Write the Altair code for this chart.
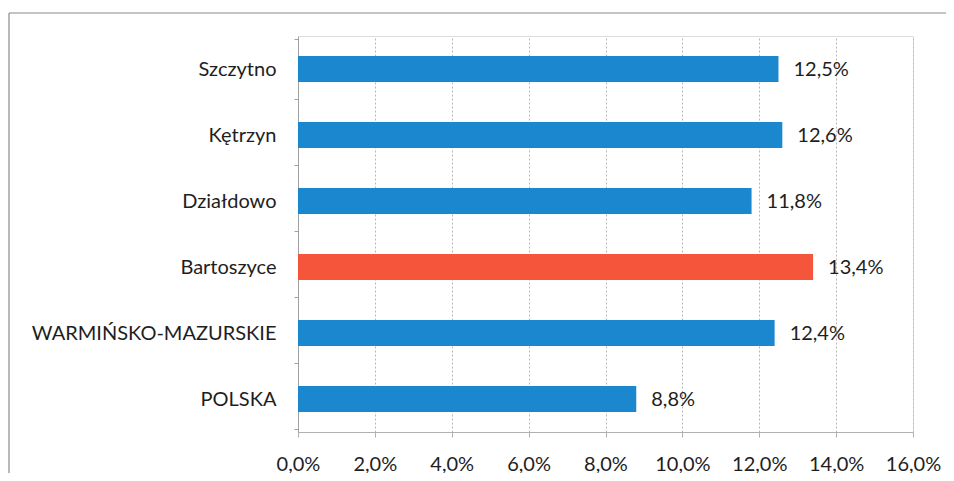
import altair as alt
import pandas as pd

categories = ["Szczytno", "Kętrzyn", "Działdowo", "Bartoszyce", "WARMIŃSKO-MAZURSKIE", "POLSKA"]
values = [12.5, 12.6, 11.8, 13.4, 12.4, 8.8]
highlight = ["n", "n", "n", "y", "n", "n"]
x_ticks = [0, 2, 4, 6, 8, 10, 12, 14, 16]

df = pd.DataFrame({"cat": categories, "v": values, "hl": highlight})

FONT = "Lato"
TXT = "#1e1e1e"

x_enc = alt.X(
    "v:Q",
    scale=alt.Scale(domain=[0, 16], nice=False),
    axis=alt.Axis(
        values=x_ticks,
        title=None,
        labelExpr="replace(format(datum.value, '.1f'), '.', ',') + '%'",
        labelFlush=False,
        grid=True,
        gridDash=[2, 2],
        gridColor="#b8b8b8",
        domainColor="#b0b0b0",
        tickColor="#b0b0b0",
        tickSize=5,
        labelPadding=17,
        labelFontSize=20,
        labelFont=FONT,
        labelColor=TXT,
    ),
)
y_enc = alt.Y(
    "cat:N",
    sort=categories,
    axis=alt.Axis(
        title=None,
        domainColor="#a0a0a0",
        tickColor="#a0a0a0",
        tickSize=4,
        tickBand="extent",
        labelPadding=18,
        labelFontSize=20,
        labelFont=FONT,
        labelColor=TXT,
        labelLimit=400,
    ),
)

bars = alt.Chart(df).mark_bar(size=26).encode(
    x=x_enc,
    y=y_enc,
    color=alt.Color(
        "hl:N",
        scale=alt.Scale(domain=["n", "y"], range=["#1b87cf", "#f4553b"]),
        legend=None,
    ),
)

labels = alt.Chart(df).transform_calculate(
    lab="replace(format(datum.v, '.1f'), '.', ',') + '%'"
).mark_text(align="left", dx=15, dy=1, fontSize=20, font=FONT, color=TXT).encode(
    x="v:Q",
    y=alt.Y("cat:N", sort=categories),
    text="lab:N",
)

frame_src = alt.Chart(df).transform_filter("datum.cat == 'POLSKA'")
frame_top = frame_src.mark_rule(color="#8a8a8a", strokeWidth=1.2).encode(
    x=alt.value(-289), x2=alt.value(648), y=alt.value(-23)
)
frame_left = frame_src.mark_rule(color="#8a8a8a", strokeWidth=1.2).encode(
    x=alt.value(-289), y=alt.value(-23), y2=alt.value(437)
)

chart = alt.layer(frame_top, frame_left, bars, labels).properties(
    width=615,
    height=396,
    autosize=alt.AutoSizeParams(type="none"),
    padding={"left": 290, "top": 28, "right": 33, "bottom": 41},
).configure_view(stroke=None).configure(background="white")

chart.save("out.html", embed_options={"renderer": "svg", "actions": False})
